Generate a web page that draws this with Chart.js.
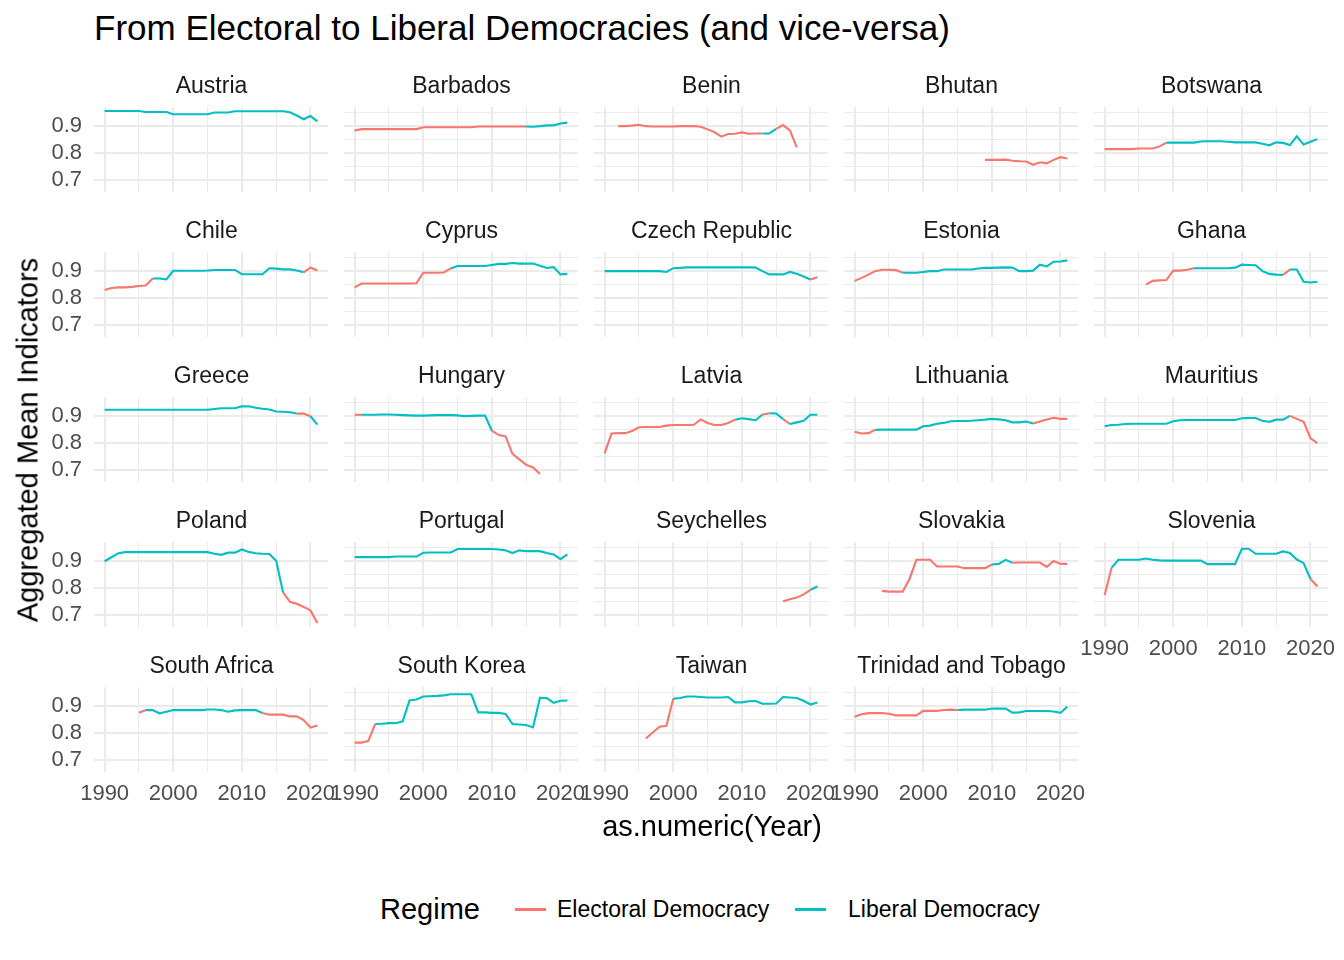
<!DOCTYPE html>
<html><head><meta charset="utf-8">
<script src="https://cdn.jsdelivr.net/npm/chart.js@4/dist/chart.umd.min.js"></script>
<style>
body{margin:0;width:1344px;height:960px;background:#fff;position:relative;overflow:hidden;font-family:"Liberation Sans",Arial,sans-serif;}
.t{position:absolute;white-space:nowrap;}
canvas{position:absolute;}
</style></head><body>
<div id="root"></div>
<script>
const COUNTRIES = ["Austria","Barbados","Benin","Bhutan","Botswana","Chile","Cyprus","Czech Republic","Estonia","Ghana","Greece","Hungary","Latvia","Lithuania","Mauritius","Poland","Portugal","Seychelles","Slovakia","Slovenia","South Africa","South Korea","Taiwan","Trinidad and Tobago"];
const START_YEARS = [1990,1990,1992,2009,1990,1990,1990,1990,1990,1996,1990,1990,1990,1990,1990,1990,1990,2016,1994,1990,1995,1990,1996,1990];
const X_TICKS = [1990,1995,2000,2005,2010,2015,2020];
const Y_TICKS = [0.7,0.75,0.8,0.85,0.9,0.95];
const REGIMES = ["Electoral Democracy","Liberal Democracy"];

const austria = [.957,.957,.957,.957,.957,.957,.953,.953,.953,.953,.945,.945,.945,.945,.945,.945,.951,.951,.951,.956,.956,.956,.956,.956,.956,.956,.956,.952,.94,.926,.938,.918];
const barbados = [.884,.889,.889,.889,.889,.889,.889,.889,.889,.889,.896,.896,.896,.896,.896,.896,.896,.896,.899,.899,.899,.899,.899,.899,.899,.899,.898,.9,.903,.903,.91,.913];
const benin = [.9,.9,.902,.905,.9,.899,.899,.899,.899,.9,.9,.9,.898,.888,.878,.861,.871,.872,.877,.872,.873,.873,.873,.89,.904,.884,.821];
const bhutan = [.775,.775,.775,.776,.772,.77,.769,.757,.766,.762,.775,.785,.78];
const botswana = [.815,.815,.815,.815,.815,.817,.817,.817,.825,.839,.839,.839,.839,.839,.843,.844,.844,.844,.842,.84,.84,.84,.84,.835,.829,.84,.838,.83,.862,.832,.842,.852];
const chile = [.83,.838,.84,.84,.842,.845,.847,.873,.873,.87,.902,.902,.902,.902,.902,.903,.905,.905,.905,.905,.889,.889,.889,.889,.911,.91,.907,.907,.903,.896,.914,.903];
const cyprus = [.84,.854,.854,.854,.854,.854,.854,.854,.854,.855,.894,.894,.894,.895,.91,.919,.919,.919,.919,.919,.923,.927,.927,.93,.928,.928,.928,.92,.912,.915,.888,.89];
const czech = [.9,.9,.9,.9,.9,.9,.9,.9,.9,.897,.911,.912,.914,.914,.914,.914,.914,.914,.914,.914,.914,.914,.913,.9,.888,.888,.888,.897,.89,.88,.869,.877];
const estonia = [.864,.875,.887,.9,.905,.905,.904,.894,.894,.894,.897,.9,.9,.906,.906,.906,.906,.906,.91,.912,.912,.913,.914,.913,.9,.9,.902,.924,.918,.935,.936,.94];
const ghana = [.85,.864,.866,.867,.9025,.902,.905,.911,.911,.911,.911,.911,.911,.913,.924,.923,.922,.9,.89,.887,.886,.906,.906,.861,.858,.861];
const greece = [.924,.924,.924,.924,.924,.924,.924,.924,.924,.924,.924,.924,.924,.924,.924,.924,.927,.93,.93,.93,.937,.937,.932,.928,.925,.918,.917,.915,.91,.91,.9,.869];
const hungary = [.905,.905,.905,.905,.906,.906,.905,.904,.903,.902,.902,.903,.904,.904,.904,.903,.9,.901,.902,.902,.846,.83,.825,.76,.74,.72,.71,.686];
const latvia = [.762,.836,.837,.837,.845,.859,.86,.86,.86,.865,.867,.867,.867,.868,.888,.875,.867,.867,.875,.887,.892,.889,.885,.906,.911,.91,.889,.871,.877,.8825,.905,.905];
const lithuania = [.8425,.836,.837,.849,.85,.85,.85,.85,.85,.85,.8625,.865,.872,.875,.881,.882,.882,.883,.885,.887,.89,.888,.885,.877,.877,.88,.8725,.88,.888,.894,.89,.89];
const mauritius = [.8625,.867,.868,.871,.872,.872,.872,.872,.872,.872,.881,.885,.886,.886,.886,.886,.886,.886,.886,.886,.8925,.893,.893,.883,.879,.887,.887,.901,.89,.879,.8175,.8];
const poland = [.9,.915,.93,.934,.934,.934,.934,.934,.934,.934,.934,.934,.934,.934,.934,.934,.928,.924,.932,.932,.944,.935,.93,.928,.927,.902,.784,.749,.742,.73,.717,.67];
const portugal = [.915,.915,.915,.915,.915,.915,.917,.917,.917,.917,.931,.932,.932,.932,.932,.945,.945,.945,.945,.945,.945,.943,.94,.93,.94,.937,.937,.937,.93,.925,.9075,.925];
const seychelles = [.751,.759,.765,.777,.794,.806];
const slovakia = [.79,.787,.787,.787,.834,.905,.905,.905,.88,.88,.88,.88,.874,.874,.874,.874,.8875,.89,.905,.894,.895,.895,.895,.895,.879,.901,.89,.89];
const slovenia = [.775,.875,.905,.905,.905,.905,.91,.905,.903,.902,.902,.902,.902,.902,.902,.889,.889,.889,.889,.889,.946,.946,.9275,.9275,.9275,.9275,.936,.93,.906,.8925,.834,.806];
const southAfrica = [.876,.886,.886,.874,.88,.886,.886,.886,.886,.886,.888,.888,.886,.88,.885,.886,.886,.886,.875,.869,.869,.869,.8625,.8625,.849,.821,.829];
const southKorea = [.765,.765,.771,.834,.835,.837,.837,.844,.921,.925,.936,.937,.938,.94,.944,.944,.944,.944,.877,.877,.875,.875,.871,.834,.832,.83,.821,.931,.93,.9125,.92,.921];
const taiwan = [.78,.8025,.824,.827,.9275,.93,.936,.936,.934,.932,.932,.932,.934,.914,.914,.918,.919,.909,.909,.91,.934,.932,.93,.92,.906,.914];
const trinidad = [.861,.87,.874,.874,.874,.872,.866,.866,.866,.866,.8825,.8825,.8825,.886,.887,.886,.887,.887,.887,.887,.891,.891,.891,.876,.877,.882,.882,.882,.882,.88,.875,.899];
const VALUES = [austria,barbados,benin,bhutan,botswana,chile,cyprus,czech,estonia,ghana,greece,hungary,latvia,lithuania,mauritius,poland,portugal,seychelles,slovakia,slovenia,southAfrica,southKorea,taiwan,trinidad];

// E = Electoral Democracy, L = Liberal Democracy (one letter per year)
const REGIME_CODES = [
 "L".repeat(32),
 "E".repeat(25)+"L".repeat(7),
 "E".repeat(21)+"LL"+"EEEE",
 "E".repeat(13),
 "E".repeat(9)+"L".repeat(23),
 "E".repeat(7)+"L".repeat(22)+"EEE",
 "E".repeat(14)+"L".repeat(18),
 "L".repeat(30)+"EE",
 "E".repeat(7)+"L".repeat(25),
 "E".repeat(7)+"L".repeat(13)+"E"+"L".repeat(5),
 "L".repeat(28)+"EE"+"LL",
 "E"+"L".repeat(19)+"E".repeat(8),
 "E".repeat(19)+"LLLL"+"E"+"LL"+"E"+"L".repeat(5),
 "EEE"+"L".repeat(23)+"E".repeat(6),
 "L".repeat(27)+"E".repeat(5),
 "L".repeat(26)+"E".repeat(6),
 "L".repeat(32),
 "EEEELL",
 "E".repeat(16)+"LLL"+"E".repeat(9),
 "E"+"L".repeat(29)+"EE",
 "E"+"L".repeat(17)+"E".repeat(9),
 "EEE"+"L".repeat(29),
 "EEEE"+"L".repeat(22),
 "E".repeat(15)+"L".repeat(17)
];

const RED = "#F8766D", CYAN = "#00BFC4";
const FONT = '"Liberation Sans", Arial, sans-serif';
const root = document.getElementById('root');
function text(str, css){const d=document.createElement('div');d.className='t';d.textContent=str;Object.assign(d.style,css);root.appendChild(d);return d;}

const PLOT_W = 234.2, PLOT_H = 85;
const isMajorY = v => Math.abs(v*10-Math.round(v*10))<1e-6;

COUNTRIES.forEach((name, idx) => {
  const i = Math.floor(idx/5), j = idx%5;
  const plotLeft = 94.4 + 250*j, plotTop = 106.8 + 145*i;
  const showY = j===0, showX = (i===4) || (i===3 && j===4);
  const PADL=26, PADR=26, PADT=8, PADB=8;
  const yw = showY ? 60 : 0, xh = showX ? 42 : 0;
  let cw = Math.round(PADL+yw+PLOT_W+PADR), ch = Math.round(PADT+PLOT_H+xh+PADB);
  const cv = document.createElement('canvas');
  cv.width = cw; cv.height = ch;
  cv.style.left = (plotLeft-PADL-yw)+'px'; cv.style.top = (plotTop-PADT)+'px';
  root.appendChild(cv);
  text(name, {left:(plotLeft+PLOT_W/2)+'px', top:(85+145*i)+'px', transform:'translate(-50%,-50%)', fontSize:'23px', color:'#1A1A1A', fontFamily:FONT});

  const vals = VALUES[idx], reg = REGIME_CODES[idx], start = START_YEARS[idx];
  const pts = vals.map((v,k)=>({x:start+k, y:v}));
  const chart = new Chart(cv, {
    type:'line',
    data:{datasets:[{data:pts, borderColor: reg[0]==='E'?RED:CYAN, borderWidth:2.1, pointRadius:0, tension:0,
      segment:{borderColor: c => reg[c.p0DataIndex]==='E' ? RED : CYAN}}]},
    options:{
      responsive:false, maintainAspectRatio:false, animation:false, devicePixelRatio:1,
      layout:{padding:{left:PADL,right:PADR,top:PADT,bottom:PADB}},
      plugins:{legend:{display:false}, tooltip:{enabled:false}},
      scales:{
        x:{type:'linear', min:1988.45, max:2022.55,
          afterBuildTicks: s => { s.ticks = X_TICKS.map(v=>({value:v})); },
          afterFit: s => { s.height = xh; },
          border:{display:false},
          grid:{color:'#EBEBEB', drawTicks:false, lineWidth: c => (c.tick && c.tick.value%10===0) ? 2.1 : 1.05},
          ticks:{display:showX, autoSkip:false, maxRotation:0, minRotation:0, padding:9, color:'#4D4D4D', font:{family:FONT,size:22},
            callback: v => v%10===0 ? String(v) : ''}},
        y:{type:'linear', min:0.656, max:0.971,
          afterBuildTicks: s => { s.ticks = Y_TICKS.map(v=>({value:v})); },
          afterFit: s => { s.width = yw; },
          border:{display:false},
          grid:{color:'#EBEBEB', drawTicks:false, lineWidth: c => (c.tick && isMajorY(c.tick.value)) ? 2.1 : 1.05},
          ticks:{display:showY, padding:12, color:'#4D4D4D', font:{family:FONT,size:22},
            callback: v => isMajorY(v) ? v.toFixed(1) : ''}}
      }
    }
  });
  // correct the plot area to the exact facet size, then place it
  for (let it=0; it<3; it++) {
    const ca = chart.chartArea;
    const dh = PLOT_H - (ca.bottom-ca.top), dw = PLOT_W - (ca.right-ca.left);
    if (Math.abs(dh)<0.5 && Math.abs(dw)<0.5) break;
    cw = Math.round(cw+dw); ch = Math.round(ch+dh);
    chart.resize(cw, ch);
  }
  const ca = chart.chartArea;
  cv.style.left = (plotLeft-ca.left)+'px';
  cv.style.top = (plotTop-ca.top)+'px';
});

text("From Electoral to Liberal Democracies (and vice-versa)", {left:'94px', top:'28px', transform:'translateY(-50%)', fontSize:'35px', color:'#000', fontFamily:FONT});
text("as.numeric(Year)", {left:'712px', top:'826px', transform:'translate(-50%,-50%)', fontSize:'29px', color:'#000', fontFamily:FONT});
text("Aggregated Mean Indicators", {left:'28px', top:'440px', transform:'translate(-50%,-50%) rotate(-90deg)', fontSize:'29px', color:'#000', fontFamily:FONT});
text("Regime", {left:'380px', top:'909px', transform:'translateY(-50%)', fontSize:'29px', color:'#000', fontFamily:FONT});
const legColors=[RED,CYAN], legX=[515,795], legTX=[557,848];
REGIMES.forEach((r,k)=>{
  const l=document.createElement('div');
  Object.assign(l.style,{position:'absolute',left:legX[k]+'px',top:'908px',width:'31px',height:'2.5px',background:legColors[k]});
  root.appendChild(l);
  text(r,{left:legTX[k]+'px', top:'909px', transform:'translateY(-50%)', fontSize:'23px', color:'#000', fontFamily:FONT});
});
</script>
</body></html>
